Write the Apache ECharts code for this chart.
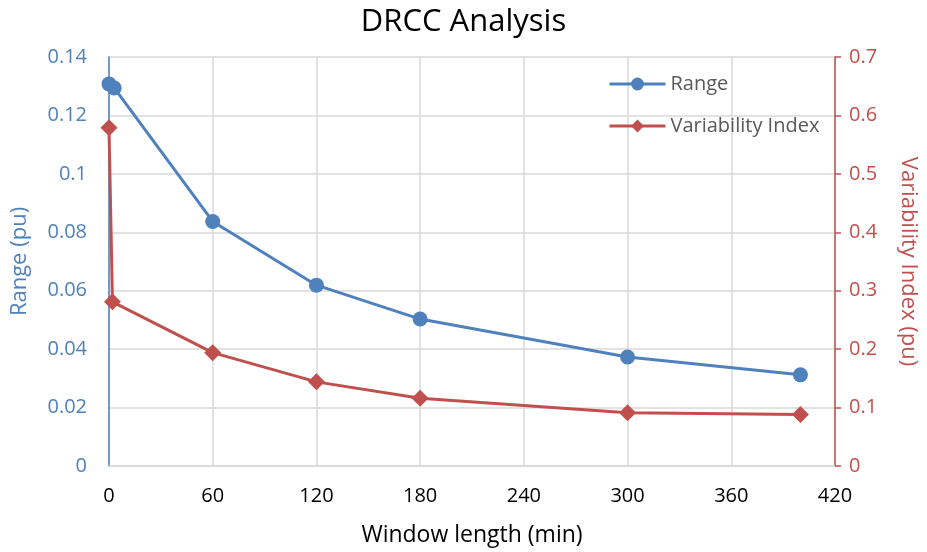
<!DOCTYPE html>
<html>
<head>
<meta charset="utf-8">
<script src="https://cdn.jsdelivr.net/npm/echarts@6/dist/echarts.min.js"></script>
<style>html,body{margin:0;padding:0;background:#fff}#c{width:927px;height:552px}</style>
</head>
<body>
<div id="c"></div>
<script>
// Window lengths (min) and the two metrics measured at each
const rangeWindows = [0, 3, 60, 120, 180, 300, 400];
const rangeValues = [0.1308, 0.1294, 0.0837, 0.0619, 0.0503, 0.0373, 0.0312];
const viWindows = [0, 2, 60, 120, 180, 300, 400];
const viValues = [0.579, 0.281, 0.194, 0.144, 0.116, 0.091, 0.088];
const xTicks = [0, 60, 120, 180, 240, 300, 360, 420];

const BLUE = '#4F81BD', RED = '#C0504D', FONT = 'Open Sans';
const pairs = (xs, ys) => xs.map((x, i) => [x, ys[i]]);

const chart = echarts.init(document.getElementById('c'));
chart.setOption({
  animation: false,
  textStyle: { fontFamily: FONT },
  title: {
    text: 'DRCC Analysis', left: 'center', top: 7, padding: [0, 0, 0, 18],
    textStyle: { fontFamily: FONT, fontSize: 31, fontWeight: 'normal', color: '#000' }
  },
  legend: {
    orient: 'vertical', left: 603, top: 69, itemGap: 22,
    itemWidth: 56, itemHeight: 16,
    lineStyle: { width: 3 },
    textStyle: { fontFamily: FONT, fontSize: 20, color: '#595959' },
    data: ['Range', 'Variability Index']
  },
  grid: { left: 109, right: 92, top: 57, bottom: 85 },
  xAxis: {
    type: 'value', min: xTicks[0], max: xTicks[xTicks.length - 1], interval: 60,
    name: 'Window length (min)', nameLocation: 'middle', nameGap: 58,
    nameTextStyle: { fontSize: 23, color: '#000', fontFamily: FONT },
    axisLine: { show: true, lineStyle: { color: '#d9d9d9', width: 1.5 } },
    axisTick: { show: false },
    axisLabel: { fontSize: 20, color: '#000', margin: 20 },
    splitLine: { show: true, lineStyle: { color: '#d9d9d9', width: 1.5 } }
  },
  yAxis: [{
    type: 'value', min: 0, max: 0.14, interval: 0.02, position: 'left',
    name: 'Range (pu)', nameLocation: 'middle', nameGap: 78, nameRotate: 90,
    nameTextStyle: { fontSize: 22, color: BLUE, fontFamily: FONT },
    axisLine: { show: true, lineStyle: { color: BLUE, width: 1.5 } },
    axisTick: { show: false },
    axisLabel: { fontSize: 20, color: BLUE, margin: 22 },
    splitLine: { show: true, lineStyle: { color: '#d9d9d9', width: 1.5 } }
  }, {
    type: 'value', min: 0, max: 0.7, interval: 0.1, position: 'right',
    name: 'Variability Index (pu)', nameLocation: 'middle', nameGap: 62, nameRotate: -90,
    nameTextStyle: { fontSize: 22, color: RED, fontFamily: FONT },
    axisLine: { show: true, lineStyle: { color: RED, width: 1.5 } },
    axisTick: { show: true, inside: false, length: 6, lineStyle: { color: RED, width: 1.5 } },
    axisLabel: { fontSize: 20, color: RED, margin: 14 },
    splitLine: { show: false }
  }],
  series: [{
    name: 'Range', type: 'line', yAxisIndex: 0,
    data: pairs(rangeWindows, rangeValues),
    symbol: 'circle', symbolSize: 15,
    itemStyle: { color: BLUE },
    lineStyle: { color: BLUE, width: 3 }
  }, {
    name: 'Variability Index', type: 'line', yAxisIndex: 1,
    data: pairs(viWindows, viValues),
    symbol: 'diamond', symbolSize: 17,
    itemStyle: { color: RED },
    lineStyle: { color: RED, width: 3 }
  }]
});
</script>
</body>
</html>
